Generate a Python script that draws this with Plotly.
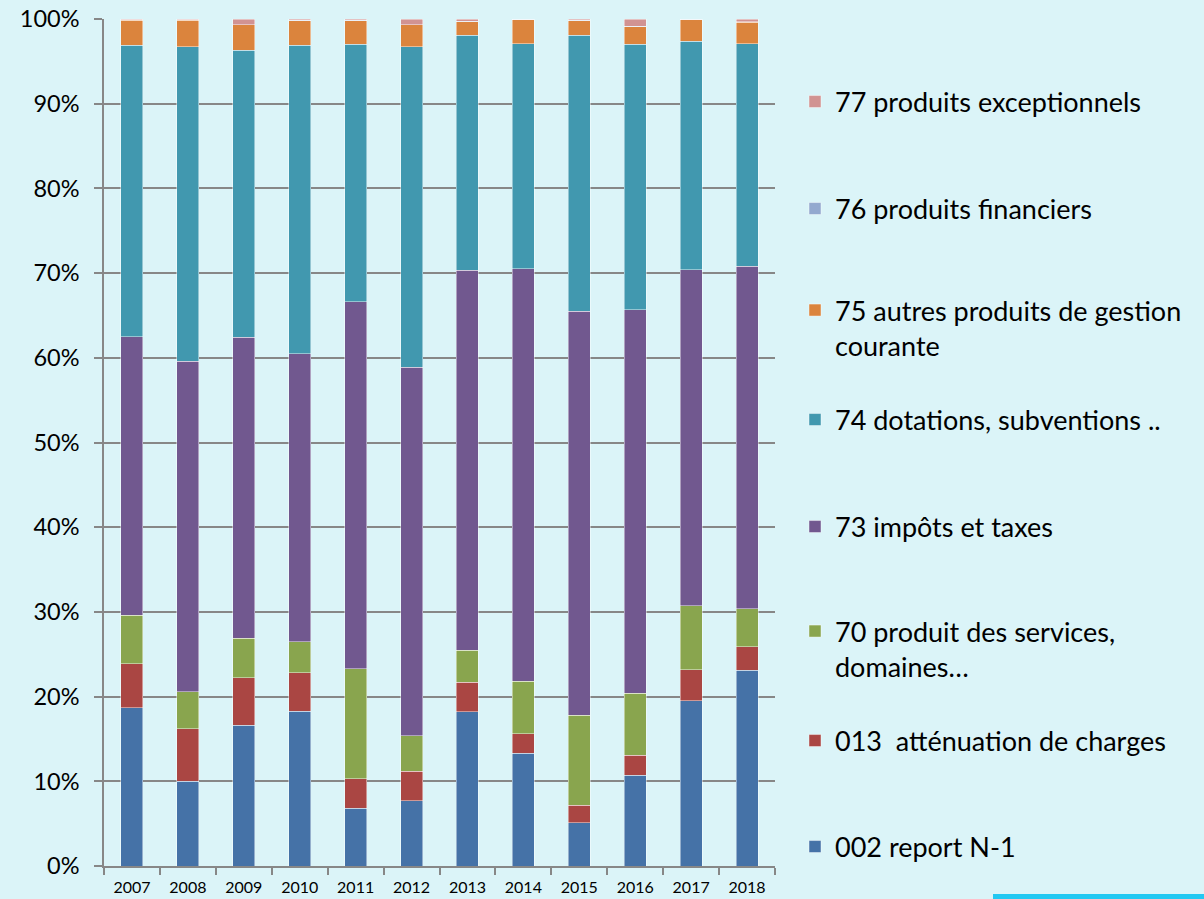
import plotly.graph_objects as go

years = ["2007", "2008", "2009", "2010", "2011", "2012",
         "2013", "2014", "2015", "2016", "2017", "2018"]

# segment shares (percent)
report_n1 =      [18.7, 10.0, 16.6, 18.3, 6.8, 7.7, 18.2, 13.3, 5.1, 10.7, 19.5, 23.1]
attenuation =    [5.2, 6.2, 5.6, 4.5, 3.5, 3.5, 3.5, 2.3, 2.1, 2.4, 3.7, 2.8]
services =       [5.7, 4.4, 4.7, 3.7, 13.0, 4.15, 3.8, 6.2, 10.6, 7.3, 7.5, 4.5]
impots =         [32.9, 39.0, 35.5, 34.0, 43.3, 43.55, 44.85, 48.7, 47.7, 45.3, 39.7, 40.4]
dotations =      [34.4, 37.1, 33.9, 36.4, 30.4, 37.8, 27.75, 26.6, 32.6, 31.3, 27.0, 26.3]
autres_gestion = [2.95, 3.15, 3.0, 2.9, 2.8, 2.6, 1.6, 2.8, 1.7, 2.1, 2.5, 2.5]
financiers =     [0.05, 0.05, 0.05, 0.05, 0.05, 0.05, 0.05, 0.05, 0.05, 0.05, 0.05, 0.05]
exceptionnels =  [0.1, 0.1, 0.65, 0.15, 0.15, 0.65, 0.25, 0.05, 0.15, 0.85, 0.05, 0.35]

series_names = [
    "002 report N-1",
    "013\u00a0 atténuation de charges",
    "70 produit des services,<br>domaines…",
    "73 impôts et taxes",
    "74 dotations, subventions ..",
    "75 autres produits de gestion<br>courante",
    "76 produits financiers",
    "77 produits exceptionnels",
]
series_values = [report_n1, attenuation, services, impots, dotations,
                 autres_gestion, financiers, exceptionnels]
colors = ["#4572A7", "#AA4643", "#89A54E", "#71588F",
          "#4198AF", "#DB843D", "#93A9CF", "#D19392"]

# legend placement (pixel centre of each legend entry)
W, H = 1204, 899
L, R, T, B = 104, 429, 19, 33
plot_h = H - T - B
plot_w = W - L - R
legend_px_y = [847, 741, 649, 527, 420, 328, 209, 102]
legend_x = (795 - L) / plot_w

BG = "#DBF4F8"
GRID = "#878787"
FONT = "Lato"

fig = go.Figure()
layout_legends = {}
for i, (name, vals, col) in enumerate(zip(series_names, series_values, colors)):
    key = "legend" if i == 0 else f"legend{i+1}"
    fig.add_trace(go.Bar(
        x=years, y=vals, name=name,
        marker=dict(color=col, line=dict(color="rgba(255,255,255,0.55)", width=0.8)),
        legend=key,
    ))
    layout_legends[key] = dict(
        x=legend_x, xanchor="left",
        y=(H - B - legend_px_y[i]) / plot_h, yanchor="middle",
        bgcolor="rgba(0,0,0,0)",
        font=dict(family=FONT, size=27, color="#000000"),
        valign="top",
        itemclick=False, itemdoubleclick=False,
    )

fig.update_layout(
    width=W, height=H,
    margin=dict(l=L, r=R, t=T, b=B, autoexpand=False),
    paper_bgcolor=BG, plot_bgcolor=BG,
    barmode="stack", barnorm="percent", bargap=0.607,
    showlegend=True,
    font=dict(family=FONT, color="#000000"),
    **layout_legends,
)

fig.update_yaxes(
    range=[0, 100], dtick=10, ticksuffix="%",
    showgrid=True, gridcolor=GRID, gridwidth=1.5,
    showline=True, linecolor=GRID, linewidth=1.5,
    ticks="outside", ticklen=8, tickcolor=GRID, tickwidth=1.5,
    tickfont=dict(family=FONT, size=23.5, color="#000000"),
    ticklabelstandoff=10,
    zeroline=False, fixedrange=True,
)
fig.update_xaxes(
    type="category",
    showline=True, linecolor=GRID, linewidth=1.5,
    ticks="outside", tickson="boundaries", ticklen=7, tickcolor=GRID, tickwidth=1.5,
    tickfont=dict(family=FONT, size=16, color="#000000"),
    ticklabelstandoff=6,
    showgrid=False, fixedrange=True,
)

# thin cyan decorative strip at the bottom right of the slide
fig.add_shape(type="rect", xref="paper", yref="paper",
              x0=(993 - L) / plot_w, x1=(W - L) / plot_w + 0.01,
              y0=(H - B - 899 - 5) / plot_h, y1=(H - B - 894) / plot_h,
              fillcolor="#22C8F2", line=dict(width=0), layer="above")

fig.write_html(
    "out.html",
    config={"displayModeBar": False},
    post_script="document.body.style.margin='0';document.body.style.overflow='hidden';",
)
